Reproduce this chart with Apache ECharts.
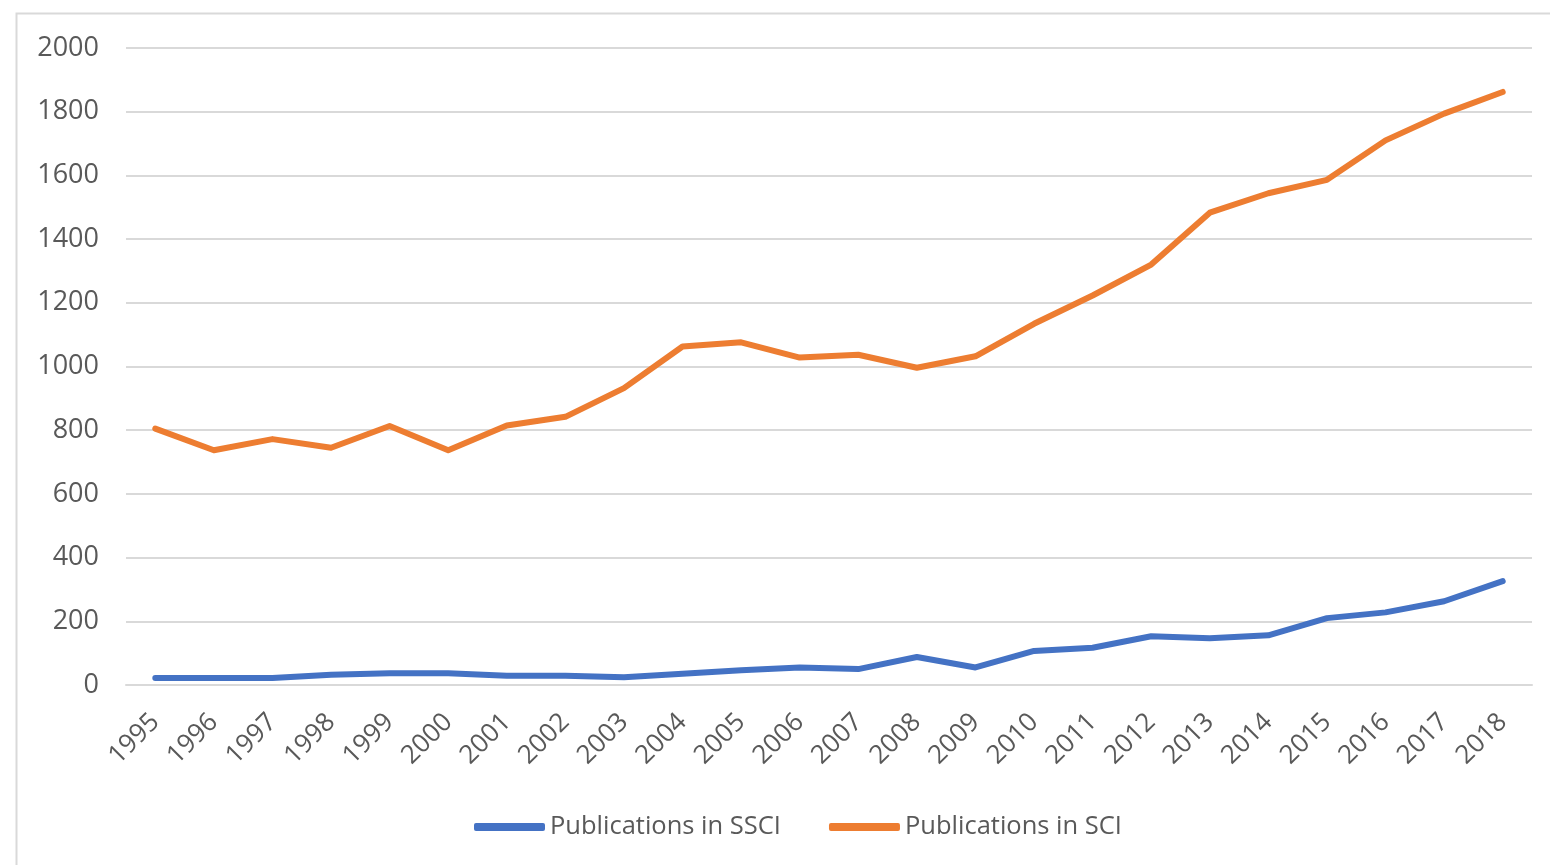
<!DOCTYPE html>
<html>
<head>
<meta charset="utf-8">
<script src="https://cdn.jsdelivr.net/npm/echarts@6/dist/echarts.min.js"></script>
<style>
html,body{margin:0;padding:0;background:#fff;}
#chart{width:1550px;height:865px;}
</style>
</head>
<body>
<div id="chart"></div>
<script>
const years = ['1995','1996','1997','1998','1999','2000','2001','2002','2003','2004','2005','2006','2007','2008','2009','2010','2011','2012','2013','2014','2015','2016','2017','2018'];
const ssci = [22,22,22,32,37,37,29,29,24,35,46,55,50,88,55,107,117,153,147,156,210,228,263,326];
const sci = [805,737,772,745,813,737,815,842,932,1063,1076,1028,1037,996,1032,1134,1223,1320,1483,1544,1586,1710,1794,1862];
const seriesNames = ['Publications in SSCI','Publications in SCI'];
const yTicks = {min:0, max:2000, interval:200};

const chart = echarts.init(document.getElementById('chart'));
const textColor = '#595959';
const font = '"Open Sans", "Liberation Sans", sans-serif';
chart.setOption({
  animation:false,
  backgroundColor:'#fff',
  graphic:[{
    type:'rect', left:14, top:11, shape:{x:0,y:0,width:1600,height:900},
    style:{fill:'none', stroke:'#d9d9d9', lineWidth:2}, z:-1
  }],
  grid:{left:126, right:18, top:48, bottom:180, containLabel:false},
  legend:{
    left:469, top:809,
    itemWidth:71, itemHeight:8, itemGap:48,
    icon:'roundRect',
    textStyle:{color:textColor, fontSize:25.5, fontFamily:font},
    data:seriesNames
  },
  xAxis:{
    type:'category', data:years, boundaryGap:true,
    axisLine:{show:true, lineStyle:{color:'#d9d9d9', width:2}},
    axisTick:{show:false},
    axisLabel:{rotate:45, margin:33, color:textColor, fontSize:26, fontFamily:font, interval:0}
  },
  yAxis:{
    type:'value', min:yTicks.min, max:yTicks.max, interval:yTicks.interval,
    axisLine:{show:false}, axisTick:{show:false},
    splitLine:{lineStyle:{color:'#d9d9d9', width:2}},
    axisLabel:{margin:27, color:textColor, fontSize:27, fontFamily:font, formatter:function(v){return String(v);}}
  },
  series:[
    {name:seriesNames[0], type:'line', data:ssci, symbol:'none',
     lineStyle:{color:'#4472C4', width:6, cap:'round', join:'round'}, itemStyle:{color:'#4472C4'}},
    {name:seriesNames[1], type:'line', data:sci, symbol:'none',
     lineStyle:{color:'#ED7D31', width:6, cap:'round', join:'round'}, itemStyle:{color:'#ED7D31'}}
  ]
});
</script>
</body>
</html>
